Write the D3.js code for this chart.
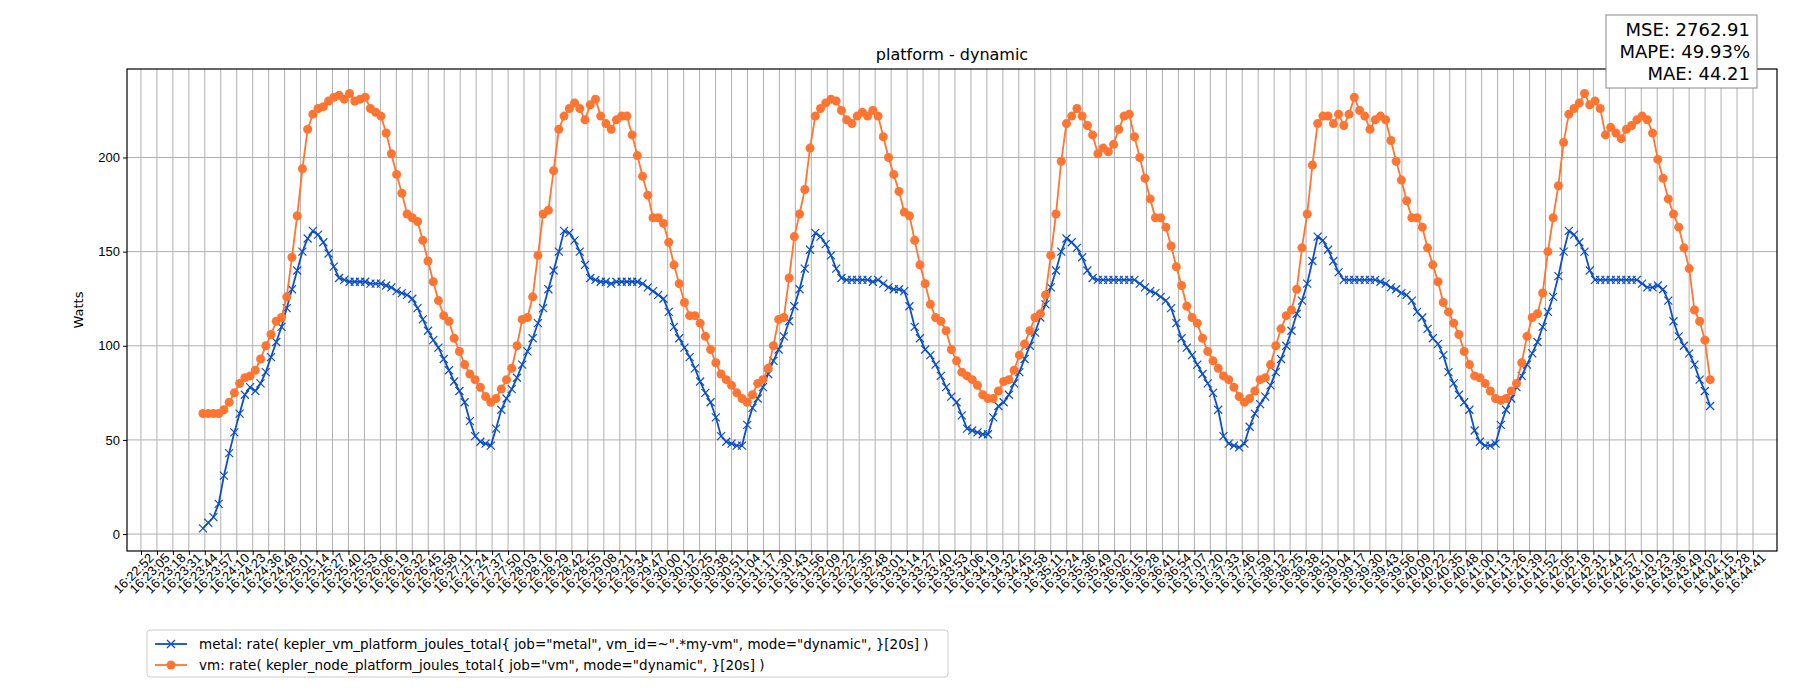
<!DOCTYPE html>
<html>
<head>
<meta charset="utf-8">
<script src="https://cdn.jsdelivr.net/npm/d3@7"></script>
<style>
  body { margin: 0; background: #fff; font-family: "DejaVu Sans", sans-serif; }
  .grid line { stroke: #b0b0b0; stroke-width: 1; }
  .axis text { font-size: 13px; fill: #000; }
</style>
</head>
<body>
<svg id="chart" width="1800" height="700"></svg>
<script>
// seconds after 16:22:52
const tickStart = 0.35;
const tickStep = 12.96;
const tickCount = 102;
const firstSample = 50.7;
const lastSample = 1274.5;

const metalStart = [3,6,9,16,31,43,54,64,74,78,76,80,86,94,102,110,120,130,140,150,157];
const metalC1 = [161,159,155,149,142,136,135,134,134,134,134,133,133, 133,132,131,129,128,127,125,120,114,108,103,99,93,87,81, 76,70,60,52,49,48,47,56, 66,72,77,83,90,97,104,112,120,130,140,150];
const metalC2 = [161,160,156,150,143,136,135,134,134,133,134,134,134, 134,134,133,131,129,127,125,118,110,104,99,94,88,81,75, 70,62,52,49,48,47,47,58, 67,72,78,85,92,98,105,113,121,130,141,151];
const metalC3 = [160,158,154,148,141,136,135,135,135,135,135,134,135, 133,131,130,130,129,121,110,104,98,95,90,84,78,73,70, 63,56,55,54,53,53,62,68, 70,74,80,86,93,100,107,115,122,131,140,150];
const metalC4 = [157,155,152,147,140,136,135,135,135,135,135,135,135, 135,133,131,129,128,126,124,120,112,104,99,95,90,85,80, 75,66,52,48,47,46,48,57, 64,69,73,79,86,93,100,108,117,124,133,145];
const metalC5 = [158,156,151,145,139,135,135,135,135,135,135,135,134, 133,131,130,128,127,124,118,115,109,104,101,95,86,80,74, 70,66,55,49,47,47,48,58, 66,72,78,84,90,96,102,110,118,126,137,150];
const metalEnd = [161,159,155,150,140,135,135,135,135,135,135,135,135,135,133,131,131,132,130,124,113,105,100,96,90,82,76,68];

const vmStart = [64,64,64,64,66,70,75,80,83,84,87,93,100,106,113,115,126,147,169,194,215];
const vmC1 = [223,226,227,230,232,233,231,234,230,231,232,226,224, 222,213,202,191,181,170,168,166,156,145,134,124,116,113,104, 97,90,85,82,78,73,70,72, 77,82,88,100,114,115,126,148,170,172,193,215];
const vmC2 = [222,226,229,226,220,228,231,222,218,215,220,222,222, 212,201,190,180,168,168,165,155,143,133,123,116,116,112,105, 98,91,85,82,79,75,72,70, 74,80,82,88,100,114,115,136,158,170,183,205];
const vmC3 = [222,226,229,231,230,225,220,218,222,224,222,225,222, 211,200,191,182,171,169,156,143,133,122,115,113,108,98,92, 86,84,82,79,74,72,72,76, 81,82,87,95,101,108,115,117,127,148,170,198];
const vmC4 = [218,222,226,222,217,212,202,205,203,207,215,222,223, 211,200,189,178,168,168,163,153,142,132,121,115,112,104,97, 92,88,84,82,78,73,70,72, 76,82,83,90,100,109,116,119,130,152,170,196];
const vmC5 = [218,222,222,218,223,217,223,232,225,222,215,220,222, 220,209,198,188,177,168,168,163,152,143,134,123,118,112,106, 97,90,84,83,80,76,72,71, 72,76,80,91,105,115,117,128,150,168,185,208];
const vmEnd = [223,226,229,234,228,230,226,212,216,213,210,215,217,220,222,220,213,199,189,178,170,163,152,141,119,113,103,82];

const metal = [].concat(metalStart, metalC1, metalC2, metalC3, metalC4, metalC5, metalEnd);
const vm = [].concat(vmStart, vmC1, vmC2, vmC3, vmC4, vmC5, vmEnd);
const yTicks = [0, 50, 100, 150, 200];

const base = new Date(2024, 0, 1, 16, 22, 52);
const fmt = d3.timeFormat('%H:%M:%S');
const tickSecs = d3.range(tickCount).map(i => tickStart + i * tickStep);
const tickLabels = tickSecs.map(s => fmt(new Date(base.getTime() + Math.floor(s) * 1000)));

const margin = {left: 127, right: 23, top: 69, bottom: 149};
const width = 1800 - margin.left - margin.right;
const height = 700 - margin.top - margin.bottom;

const svg = d3.select('#chart');
const g = svg.append('g').attr('transform', 'translate(' + margin.left + ',' + margin.top + ')');

const x = d3.scaleLinear().domain([-11.0, 1328.8]).range([0, width]);
const y = d3.scaleLinear().domain([-9, 247]).range([height, 0]);

function sampleTime(arr) {
  const step = (lastSample - firstSample) / (arr.length - 1);
  return arr.map((v, i) => ({t: firstSample + i * step, v: v}));
}

// grid
g.append('g').attr('class', 'grid').selectAll('line.v').data(tickSecs).join('line')
  .attr('x1', d => x(d)).attr('x2', d => x(d)).attr('y1', 0).attr('y2', height);
g.append('g').attr('class', 'grid').selectAll('line.h').data(yTicks).join('line')
  .attr('x1', 0).attr('x2', width).attr('y1', d => y(d)).attr('y2', d => y(d));

const xAxis = g.append('g').attr('class', 'axis').attr('transform', 'translate(0,' + height + ')')
  .call(d3.axisBottom(x).tickValues(tickSecs).tickFormat((d, i) => tickLabels[i]).tickSizeOuter(0).tickSize(4));
xAxis.selectAll('text')
  .attr('text-anchor', 'end').attr('dx', '0.3em').attr('dy', '0.6em')
  .attr('transform', 'rotate(-45)');
g.append('g').attr('class', 'axis')
  .call(d3.axisLeft(y).tickValues(yTicks).tickSizeOuter(0).tickSize(4));
g.selectAll('.axis .domain').remove();
g.append('rect').attr('width', width).attr('height', height)
  .attr('fill', 'none').attr('stroke', '#000').attr('stroke-width', 1.2);

const line = d3.line().x(d => x(d.t)).y(d => y(d.v));

const vmPts = sampleTime(vm);
const metalPts = sampleTime(metal);
const orange = '#ff7531', blue = '#0d4fc4';

g.append('path').datum(metalPts).attr('fill', 'none').attr('stroke', blue).attr('stroke-width', 1.8).attr('d', line);
g.append('g').selectAll('path').data(metalPts).join('path')
  .attr('d', d => { const cx = x(d.t), cy = y(d.v), r = 4; return `M${cx-r},${cy-r}L${cx+r},${cy+r}M${cx-r},${cy+r}L${cx+r},${cy-r}`; })
  .attr('stroke', blue).attr('stroke-width', 1.2);

g.append('path').datum(vmPts).attr('fill', 'none').attr('stroke', orange).attr('stroke-width', 1.8).attr('d', line);
g.append('g').selectAll('circle').data(vmPts).join('circle')
  .attr('cx', d => x(d.t)).attr('cy', d => y(d.v)).attr('r', 4.5).attr('fill', orange);

// title & labels
svg.append('text').attr('x', margin.left + width / 2).attr('y', 60).attr('text-anchor', 'middle')
  .attr('font-size', 16).text('platform - dynamic');
svg.append('text').attr('transform', 'translate(83,' + (margin.top + height / 2) + ') rotate(-90)')
  .attr('text-anchor', 'middle').attr('font-size', 13).text('Watts');

// metrics box
const stats = ['MSE: 2762.91', 'MAPE: 49.93%', 'MAE: 44.21'];
svg.append('rect').attr('x', 1606).attr('y', 15).attr('width', 151).attr('height', 73)
  .attr('fill', '#fff').attr('stroke', '#888').attr('stroke-width', 1);
svg.selectAll('text.stat').data(stats).join('text').attr('class', 'stat')
  .attr('x', 1750).attr('y', (d, i) => 36 + i * 22).attr('text-anchor', 'end')
  .attr('font-size', 18).text(d => d);

// legend
const legendItems = [
  {label: 'metal: rate( kepler_vm_platform_joules_total{ job="metal", vm_id=~".*my-vm", mode="dynamic", }[20s] )', color: blue, m: 'x'},
  {label: 'vm: rate( kepler_node_platform_joules_total{ job="vm", mode="dynamic", }[20s] )', color: orange, m: 'o'}
];
const lg = svg.append('g').attr('transform', 'translate(147,630)');
lg.append('rect').attr('width', 801).attr('height', 47).attr('rx', 3)
  .attr('fill', '#fff').attr('stroke', '#ccc');
legendItems.forEach((it, i) => {
  const cy = 14 + i * 21;
  lg.append('line').attr('x1', 8).attr('x2', 40).attr('y1', cy).attr('y2', cy).attr('stroke', it.color).attr('stroke-width', 1.8);
  if (it.m === 'x') {
    lg.append('path').attr('d', `M20,${cy-4}L28,${cy+4}M20,${cy+4}L28,${cy-4}`).attr('stroke', it.color).attr('stroke-width', 1.3);
  } else {
    lg.append('circle').attr('cx', 24).attr('cy', cy).attr('r', 4.5).attr('fill', it.color);
  }
  lg.append('text').attr('x', 52).attr('y', cy + 5).attr('font-size', 13.5).text(it.label);
});
</script>
</body>
</html>
